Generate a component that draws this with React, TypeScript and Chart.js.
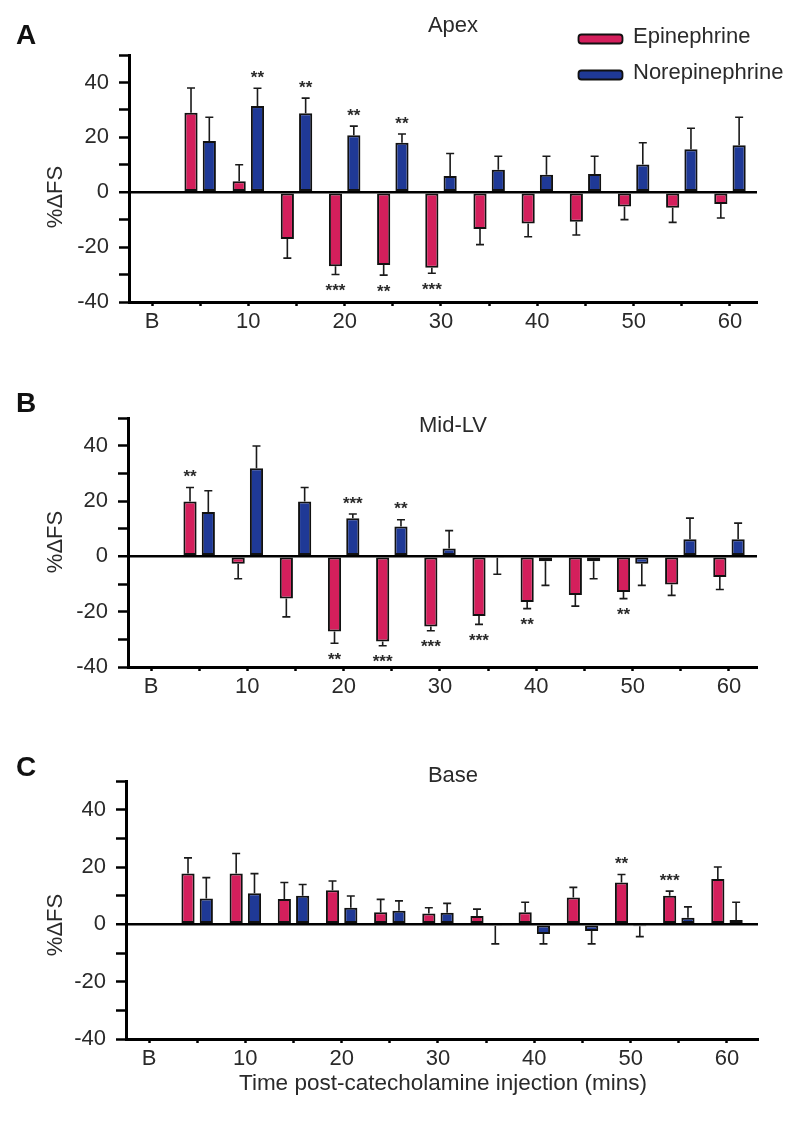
import React, { useEffect, useRef } from 'react';
import { Chart, registerables } from 'chart.js';

Chart.register(...registerables);

// ---------------- data ----------------
const timePoints = [5, 10, 15, 20, 25, 30, 35, 40, 45, 50, 55, 60];
const xTickValues = [0, 5, 10, 15, 20, 25, 30, 35, 40, 45, 50, 55, 60];
const yTickValues = [-40, -30, -20, -10, 0, 10, 20, 30, 40, 50];
const seriesNames = ['Epinephrine', 'Norepinephrine'];
const yTitle = '%\u0394FS';
const xTitle = 'Time post-catecholamine injection (mins)';

// Panel A – Apex
const apexEpi = [29, 4, -17, -27, -26.5, -27.5, -13.4, -11.4, -10.8, -5.2, -5.7, -4.3];
const apexEpiErr = [9, 6, 7, 3, 3.7, 2, 5.7, 4.8, 4.8, 4.8, 5.3, 5.1];
const apexEpiSig = ['', '', '', '***', '**', '***', '', '', '', '', '', ''];
const apexNor = [18.7, 31.4, 28.8, 20.8, 18, 5.9, 8.2, 6.4, 6.6, 10.1, 15.7, 17.1];
const apexNorErr = [8.6, 6.5, 5.5, 3.3, 3.2, 8.2, 4.9, 6.7, 6.5, 7.9, 7.6, 10.2];
const apexNorSig = ['', '**', '**', '**', '**', '', '', '', '', '', '', ''];

// Panel B – Mid-LV
const midEpi = [19.8, -2.7, -15.2, -27.2, -30.8, -25.4, -21.6, -16.5, -14, -12.9, -10.2, -7.5];
const midEpiErr = [5.1, 5.4, 6.7, 4.2, 1.5, 1.5, 3, 2.4, 4, 2.4, 3.9, 4.5];
const midEpiSig = ['**', '', '', '**', '***', '***', '***', '**', '', '**', '', ''];
const midNor = [16, 31.8, 19.8, 13.8, 10.8, 2.8, -0.5, -1.8, -1.8, -2.7, 6.2, 6.2];
const midNorErr = [7.7, 8.1, 5.1, 1.5, 2.4, 6.5, 6, 8.7, 6.3, 7.8, 7.6, 5.8];
const midNorSig = ['', '', '', '***', '**', '', '', '', '', '', '', ''];

// Panel C – Base
const baseEpi = [17.7, 17.7, 8.8, 11.9, 4.2, 3.8, 2.9, 4.2, 9.4, 14.6, 10, 15.8];
const baseEpiErr = [5.5, 7, 5.8, 3.2, 4.5, 2, 2.4, 3.5, 3.5, 2.8, 1.6, 4.2];
const baseEpiSig = ['', '', '', '', '', '', '', '', '', '**', '***', ''];
const baseNor = [9, 10.8, 10, 5.8, 4.7, 4, -0.5, -3.4, -2.3, -0.7, 2.3, 1.5];
const baseNorErr = [7.3, 6.9, 3.9, 4.1, 3.5, 3.3, 6.3, 3.4, 4.5, 3.6, 3.8, 6.2];
const baseNorSig = ['', '', '', '', '', '', '', '', '', '', '', ''];

const yMin = -40;
const yMax = 50;

// ---------------- styling ----------------
const FONT = "'Liberation Sans', Arial, Helvetica, sans-serif";
const EPI_COLOR = '#d41f5c';
const NOR_COLOR = '#1f3996';
const TEXT = '#2a2a2a';
const PX_PER_MIN = 9.633;
const FS = 22;

type Panel = {
  letter: string;
  title: string;
  epi: number[]; epiErr: number[]; epiSig: string[];
  nor: number[]; norErr: number[]; norSig: string[];
  top: number; height: number;
  area: { left: number; right: number; top: number; bottom: number };
  bPx: number;
  letterY: number; titleY: number; yTitleY: number;
  legend: boolean; xTitleY?: number;
};

const panels: Panel[] = [
  {
    letter: 'A', title: 'Apex',
    epi: apexEpi, epiErr: apexEpiErr, epiSig: apexEpiSig,
    nor: apexNor, norErr: apexNorErr, norSig: apexNorSig,
    top: 0, height: 360,
    area: { left: 129, right: 757, top: 55, bottom: 302 }, bPx: 152,
    letterY: 44, titleY: 32, yTitleY: 197, legend: true,
  },
  {
    letter: 'B', title: 'Mid-LV',
    epi: midEpi, epiErr: midEpiErr, epiSig: midEpiSig,
    nor: midNor, norErr: midNorErr, norSig: midNorSig,
    top: 345, height: 370,
    area: { left: 128, right: 757, top: 73, bottom: 322 }, bPx: 151,
    letterY: 67, titleY: 87, yTitleY: 197, legend: false,
  },
  {
    letter: 'C', title: 'Base',
    epi: baseEpi, epiErr: baseEpiErr, epiSig: baseEpiSig,
    nor: baseNor, norErr: baseNorErr, norSig: baseNorSig,
    top: 690, height: 442,
    area: { left: 126, right: 758, top: 91, bottom: 349 }, bPx: 149,
    letterY: 86, titleY: 92, yTitleY: 235, legend: false, xTitleY: 394,
  },
];

const errorBarPlugin = {
  id: 'errorBars',
  afterDatasetsDraw(chart: any) {
    const ctx = chart.ctx;
    const yScale = chart.scales.y;
    chart.data.datasets.forEach((ds: any, i: number) => {
      const meta = chart.getDatasetMeta(i);
      meta.data.forEach((bar: any, j: number) => {
        const v = ds.data[j].y;
        const e = ds.errors[j];
        const dir = v >= 0 ? 1 : -1;
        const yEnd = yScale.getPixelForValue(v + dir * e);
        ctx.save();
        ctx.strokeStyle = '#1a1a1a';
        ctx.lineWidth = 1.6;
        ctx.beginPath();
        ctx.moveTo(bar.x, bar.y);
        ctx.lineTo(bar.x, yEnd);
        ctx.moveTo(bar.x - 4, yEnd);
        ctx.lineTo(bar.x + 4, yEnd);
        ctx.stroke();
        const s = ds.sig[j];
        if (s) {
          ctx.fillStyle = TEXT;
          ctx.font = `bold 17px ${FONT}`;
          ctx.textAlign = 'center';
          ctx.textBaseline = 'alphabetic';
          const cy = dir > 0 ? yEnd - 15 : yEnd + 12;
          ctx.fillText(s, bar.x, cy + 9.5);
        }
        ctx.restore();
      });
    });
  },
};

function makeTextPlugin(p: Panel) {
  return {
    id: 'panelText',
    afterDraw(chart: any) {
      const ctx = chart.ctx;
      ctx.save();
      ctx.fillStyle = '#111';
      ctx.font = `bold 28px ${FONT}`;
      ctx.textAlign = 'left';
      ctx.textBaseline = 'alphabetic';
      ctx.fillText(p.letter, 16, p.letterY);

      ctx.fillStyle = TEXT;
      ctx.font = `${FS}px ${FONT}`;
      ctx.textAlign = 'center';
      ctx.fillText(p.title, 453, p.titleY);

      ctx.save();
      ctx.translate(56, p.yTitleY);
      ctx.rotate(-Math.PI / 2);
      ctx.textAlign = 'center';
      ctx.textBaseline = 'middle';
      ctx.fillText(yTitle, 0, 0);
      ctx.restore();

      if (p.legend) {
        const rows = [
          { name: seriesNames[0], color: EPI_COLOR, y: 39 },
          { name: seriesNames[1], color: NOR_COLOR, y: 75 },
        ];
        rows.forEach((r) => {
          ctx.beginPath();
          ctx.roundRect(578.5, r.y - 4.5, 44, 9, 3);
          ctx.fillStyle = r.color;
          ctx.fill();
          ctx.strokeStyle = '#111';
          ctx.lineWidth = 1.8;
          ctx.stroke();
          ctx.fillStyle = TEXT;
          ctx.font = `${FS}px ${FONT}`;
          ctx.textAlign = 'left';
          ctx.textBaseline = 'middle';
          ctx.fillText(r.name, 633, r.y - 2);
        });
      }
      if (p.xTitleY !== undefined) {
        ctx.fillStyle = TEXT;
        ctx.font = `22.5px ${FONT}`;
        ctx.textAlign = 'center';
        ctx.textBaseline = 'middle';
        ctx.fillText(xTitle, 443, p.xTitleY);
      }
      ctx.restore();
    },
  };
}

function PanelChart({ p }: { p: Panel }) {
  const ref = useRef<HTMLCanvasElement>(null);
  useEffect(() => {
    if (!ref.current) return;
    const X_AXIS_H = 34;
    const xMin = -(p.bPx - p.area.left) / PX_PER_MIN;
    const xMax = (p.area.right - p.bPx) / PX_PER_MIN;
    const barStyle = {
      borderColor: '#111',
      borderWidth: 2,
      borderSkipped: false,
      categoryPercentage: 0.76,
      barPercentage: 0.72,
    };
    const chart = new Chart(ref.current, {
      type: 'bar',
      data: {
        datasets: [
          {
            label: seriesNames[0],
            data: timePoints.map((t, i) => ({ x: t, y: p.epi[i] })),
            backgroundColor: EPI_COLOR,
            ...barStyle,
            errors: p.epiErr,
            sig: p.epiSig,
          } as any,
          {
            label: seriesNames[1],
            data: timePoints.map((t, i) => ({ x: t, y: p.nor[i] })),
            backgroundColor: NOR_COLOR,
            ...barStyle,
            errors: p.norErr,
            sig: p.norSig,
          } as any,
        ],
      },
      options: {
        responsive: false,
        animation: false,
        devicePixelRatio: 1,
        layout: {
          padding: {
            left: 0,
            right: 800 - p.area.right,
            top: p.area.top,
            bottom: p.height - p.area.bottom - X_AXIS_H,
          },
        },
        plugins: { legend: { display: false }, title: { display: false }, tooltip: { enabled: false } },
        scales: {
          x: {
            type: 'linear',
            min: xMin,
            max: xMax,
            offset: false,
            afterBuildTicks: (s: any) => {
              s.ticks = xTickValues.map((v) => ({ value: v }));
            },
            afterFit: (s: any) => {
              s.height = X_AXIS_H;
            },
            grid: {
              display: true,
              offset: false,
              drawOnChartArea: false,
              drawTicks: true,
              tickLength: 4,
              tickColor: '#000',
              tickWidth: 2.5,
              color: 'rgba(0,0,0,0)',
            },
            border: { display: true, color: '#000', width: 3 },
            ticks: {
              autoSkip: false,
              maxRotation: 0,
              padding: 3,
              color: TEXT,
              font: { family: FONT, size: FS },
              callback: (v: any) => (v === 0 ? 'B' : v % 10 === 0 ? String(v) : ''),
            },
          },
          y: {
            type: 'linear',
            min: yMin,
            max: yMax,
            afterBuildTicks: (s: any) => {
              s.ticks = yTickValues.map((v) => ({ value: v }));
            },
            afterFit: (s: any) => {
              s.width = p.area.left;
            },
            grid: {
              display: true,
              drawOnChartArea: true,
              drawTicks: true,
              tickLength: 10,
              tickColor: '#000',
              tickWidth: 2.5,
              color: (c: any) => (c.tick && c.tick.value === 0 ? '#000' : 'rgba(0,0,0,0)'),
              lineWidth: (c: any) => (c.tick && c.tick.value === 0 ? 2.5 : 1),
            },
            border: { display: true, color: '#000', width: 3 },
            ticks: {
              autoSkip: false,
              padding: 10,
              color: TEXT,
              font: { family: FONT, size: FS },
              callback: (v: any) => (v % 20 === 0 ? String(v) : ''),
            },
          },
        },
      },
      plugins: [errorBarPlugin, makeTextPlugin(p)],
    });
    return () => chart.destroy();
  }, [p]);
  return (
    <canvas
      ref={ref}
      width={800}
      height={p.height}
      style={{ position: 'absolute', left: 0, top: p.top, width: 800, height: p.height }}
    />
  );
}

export default function App() {
  return (
    <div style={{ position: 'absolute', left: 0, top: 0, width: 800, height: 1132, background: '#fff' }}>
      {panels.map((p) => (
        <PanelChart key={p.letter} p={p} />
      ))}
    </div>
  );
}
